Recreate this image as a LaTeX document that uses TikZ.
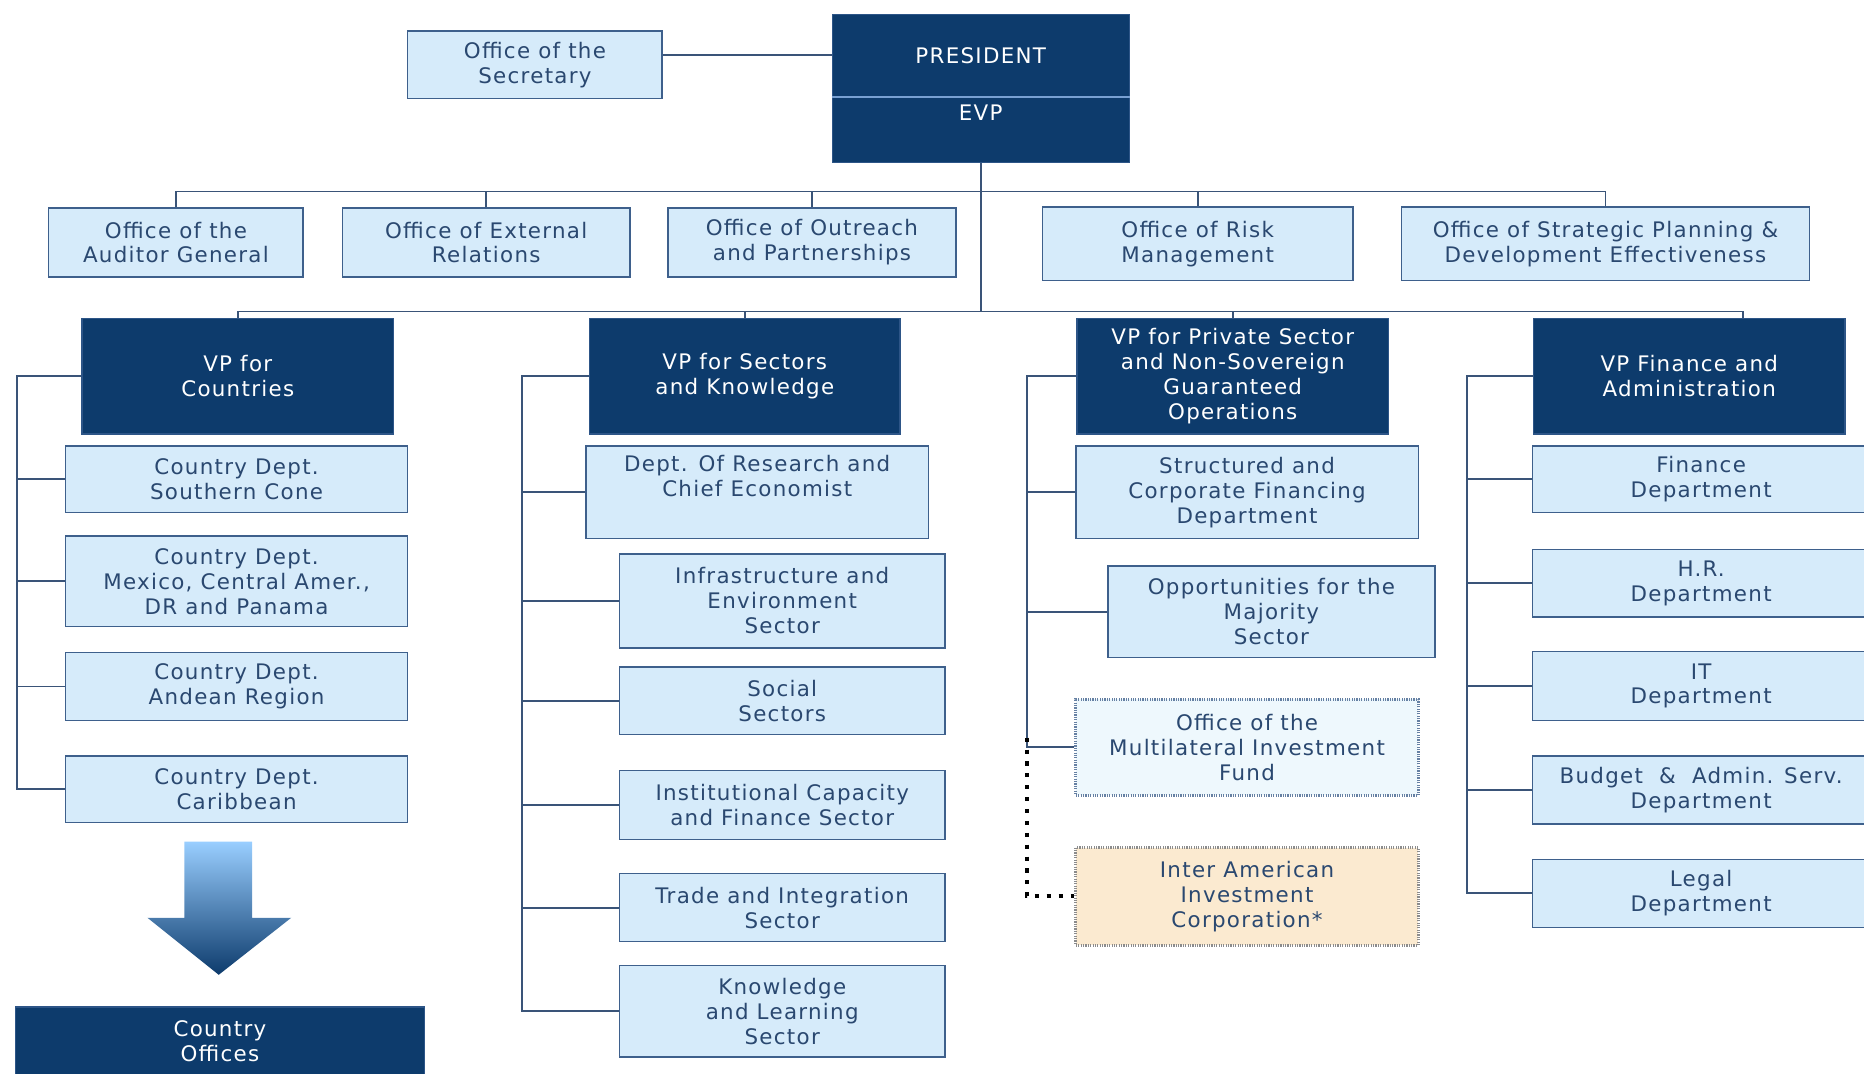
\documentclass[tikz,border=0pt]{standalone}
\usepackage{fontspec}
\setmainfont{DejaVu Sans}[LetterSpace=6]
\usepackage{xcolor}
\usepackage{tikz}
\definecolor{navy}{RGB}{13,59,108}
\definecolor{navyedge}{RGB}{45,85,135}
\definecolor{divider}{RGB}{120,160,210}
\definecolor{paleblue}{RGB}{214,235,250}
\definecolor{boxedge}{RGB}{62,96,140}
\definecolor{boxtext}{RGB}{42,72,112}
\definecolor{linkcol}{RGB}{58,84,120}
\definecolor{mifblue}{RGB}{238,248,253}
\definecolor{iicsand}{RGB}{251,234,208}
\definecolor{arrowtop}{RGB}{153,206,255}

\begin{document}
\begin{tikzpicture}[x=1pt,y=-1pt,font=\fontsize{18}{21}\selectfont,
  sz/.style 2 args={minimum width=#1pt,minimum height=#2pt},
  head/.style={rectangle,fill=navy,draw=navyedge,line width=1pt,text=white,align=center,inner sep=0pt},
  unit/.style={rectangle,fill=paleblue,draw=boxedge,line width=1.2pt,text=boxtext,align=center,inner sep=0pt},
  link/.style={draw=linkcol,line width=1.5pt},
  dots/.style={draw=black,line width=3.5pt,dash pattern=on 3.5pt off 6.5pt}]

    \useasboundingbox (0,0) rectangle (1568,903);
    \clip (0,0) rectangle (1568,903);

    % The top
	\node [head, sz={250}{69}] at (825,46.5) (pres) {PRESIDENT};
	\node [head, sz={250}{56}, text depth=28pt] at (825,109) (evp) {EVP};
	\node [unit, sz={214}{57}] at (450,54.5) (sec) {Office of the\\Secretary};
	\draw [draw=divider, line width=1.2pt] (pres.south west) -- (pres.south east);

    % The offices
	\node [unit, sz={214}{58}] at (148,204) (aud) {Office of the\\Auditor General};
	\node [unit, sz={242}{58}] at (409,204) (ext) {Office of External\\Relations};
	\node [unit, sz={242}{58}] at (683,204) (outr) {Office of Outreach\\and Partnerships};
	\node [unit, sz={261}{62}] at (1007.5,205) (risk) {Office of Risk\\Management};
	\node [unit, sz={343}{62}] at (1350.5,205) (strat) {Office of Strategic Planning \&\\Development Effectiveness};

    % The vice presidents
	\node [head, sz={262}{97}] at (200,316.5) (vpc) {VP for\\Countries};
	\node [head, sz={261}{97}] at (626.5,316.5) (vps) {VP for Sectors\\and Knowledge};
	\node [head, sz={262}{97}] at (1037,316.5) (vpp) {VP for Private Sector\\and Non-Sovereign\\Guaranteed\\Operations};
	\node [head, sz={262}{97}] at (1421,316.5) (vpf) {VP Finance and\\Administration};

    % Countries
	\node [unit, sz={288}{56}] at (199,403) (cdsc) {Country Dept.\\Southern Cone};
	\node [unit, sz={288}{76}] at (199,489) (cdmx) {Country Dept.\\Mexico, Central Amer.,\\DR and Panama};
	\node [unit, sz={288}{57}] at (199,577.5) (cdan) {Country Dept.\\Andean Region};
	\node [unit, sz={288}{56}] at (199,664) (cdca) {Country Dept.\\Caribbean};
	\node [head, sz={344}{58}] at (185,876) (coff) {Country\\Offices};

    % Sectors
	\node [unit, sz={288}{78}, text depth=28pt] at (637,414) (resr) {Dept. Of Research and\\Chief Economist};
	\node [unit, sz={274}{79}] at (658,505.5) (infr) {Infrastructure and\\Environment\\Sector};
	\node [unit, sz={274}{57}] at (658,589.5) (socl) {Social\\Sectors};
	\node [unit, sz={274}{58}] at (658,677) (inst) {Institutional Capacity\\and Finance Sector};
	\node [unit, sz={274}{57}] at (658,763.5) (trad) {Trade and Integration\\Sector};
	\node [unit, sz={274}{77}] at (658,850.5) (know) {Knowledge\\and Learning\\Sector};

    % Private sector
	\node [unit, sz={288}{78}] at (1049,414) (strc) {Structured and\\Corporate Financing\\Department};
	\node [unit, sz={275}{77}] at (1069.5,514.5) (oppm) {Opportunities for the\\Majority\\Sector};
	\node [unit, sz={288}{81}, fill=mifblue, draw=boxedge!80, line width=2.5pt, dash pattern=on 1pt off 1pt] at (1049,628.5) (mif) {Office of the\\Multilateral Investment\\Fund};
	\node [unit, sz={288}{82}, fill=iicsand, draw=black!45, line width=2.5pt, dash pattern=on 1pt off 1pt] at (1049,754) (iic) {Inter American\\Investment\\Corporation*};

    % Finance
	\node [unit, sz={284}{56}] at (1431,403) (fin) {Finance\\Department};
	\node [unit, sz={284}{57}] at (1431,490.5) (hr) {H.R.\\Department};
	\node [unit, sz={284}{58}] at (1431,577) (it) {IT\\Department};
	\node [unit, sz={284}{57}] at (1431,664.5) (bud) {Budget\ \ \&\ \ Admin. Serv.\\Department};
	\node [unit, sz={284}{57}] at (1431,751.5) (legal) {Legal\\Department};

    % Arrow to the country offices
	\shade [top color=arrowtop, bottom color=navy] (155,708) -- (212,708) -- (212,772) -- (245,772)
	  -- (184,820) -- (124,772) -- (155,772) -- cycle;

	% Top edges
	\coordinate (obus) at (823,161);
	\coordinate (vbus) at (823,262);
	\coordinate (vfdrop) at ([xshift=45pt]vpf.north);
	\draw [link] (pres.west) -- (pres.west -| sec.east);
	\draw [link] (evp.south) -- (evp.south |- vbus);
	\draw [link] (aud.north |- obus) -- (strat.north |- obus);
	\foreach \n in {aud,ext,outr,risk,strat}
	  \draw [link] (\n.north) -- (\n.north |- obus);
	\draw [link] (vpc.north |- vbus) -- (vfdrop |- vbus);
	\foreach \n in {vpc,vps,vpp,vfdrop}
	  \draw [link] (\n |- vbus) -- (\n |- vpc.north);

	% Column edges
	\coordinate (sp1) at (14,0);
	\coordinate (sp2) at (439,0);
	\coordinate (sp3) at (864,0);
	\coordinate (sp4) at (1234,0);
	\draw [link] (vpc.west) -| (cdca.west -| sp1) -- (cdca.west);
	\foreach \n in {cdsc,cdmx,cdan}
	  \draw [link] (\n.west) -- (\n.west -| sp1);
	\draw [link] (vps.west) -| (know.west -| sp2) -- (know.west);
	\foreach \n in {resr,infr,socl,inst,trad}
	  \draw [link] (\n.west) -- (\n.west -| sp2);
	\draw [link] (vpp.west) -| (mif.west -| sp3) -- (mif.west);
	\foreach \n in {strc,oppm}
	  \draw [link] (\n.west) -- (\n.west -| sp3);
	\draw [link] (vpf.west) -| (legal.west -| sp4) -- (legal.west);
	\foreach \n in {fin,hr,it,bud}
	  \draw [link] (\n.west) -- (\n.west -| sp4);

	\draw [dots] ([yshift=8pt]mif.west -| sp3) |- (iic.west);

\end{tikzpicture}
\end{document}
